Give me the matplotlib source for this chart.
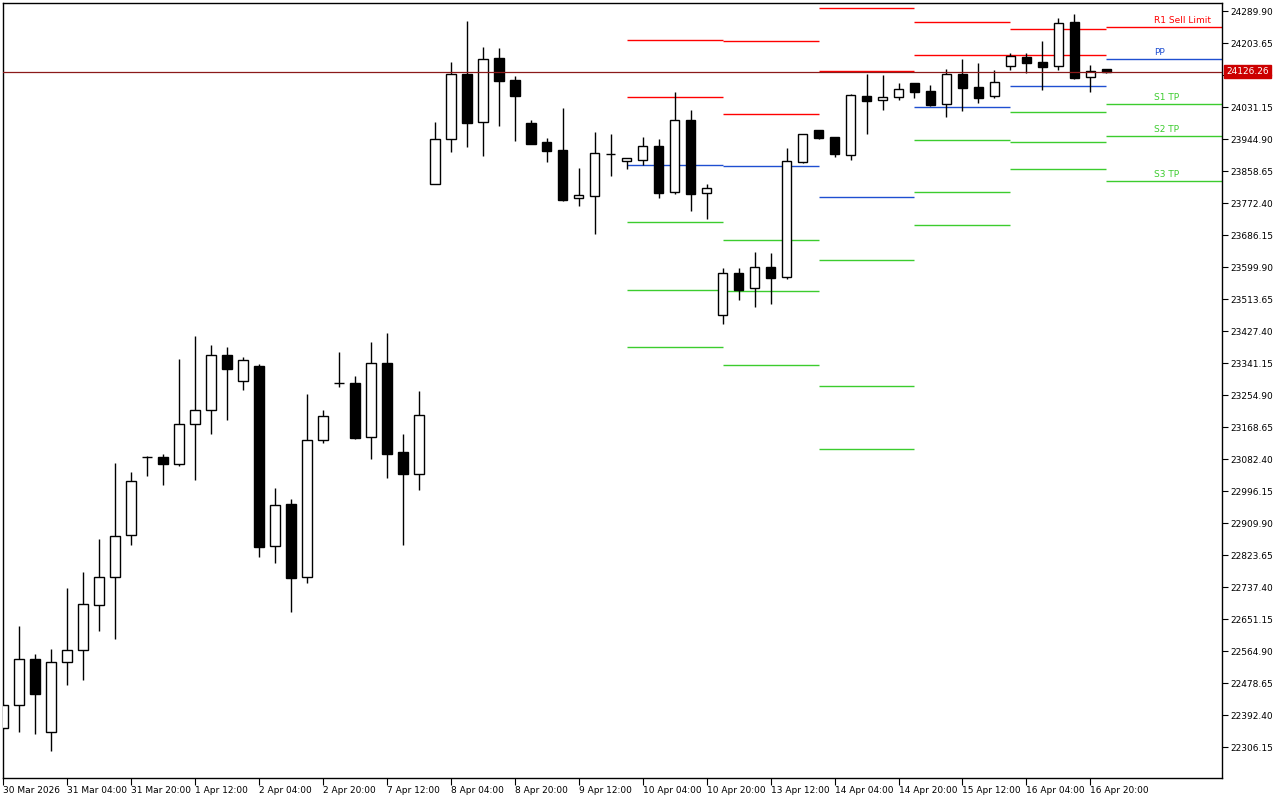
import matplotlib
matplotlib.use("Agg")
import matplotlib.pyplot as plt
from matplotlib.patches import Rectangle
import matplotlib.transforms as mtransforms

# ---------------- data (H4 candles) ----------------
opens = [22356.6, 22418.5, 22542.5, 22345.8, 22534.5, 22566.8, 22688.1, 22763.6, 22876.8, 23089.1,
         23087.8, 23069.7, 23176.0, 23213.7, 23361.9, 23291.8, 23332.3, 22847.1, 22960.3, 22763.6,
         23132.8, 23286.5, 23286.4, 23140.9, 23340.4, 23100.5, 23042.8, 23822.8, 23944.1, 24119.3,
         23989.9, 24162.4, 24103.1, 23987.2, 23936.0, 23914.5, 23785.1, 23792.1, 23905.0, 23884.8,
         23887.5, 23926.0, 23801.2, 23996.1, 23798.6, 23469.7, 23582.9, 23542.5, 23599.1, 23573.8,
         23883.7, 23969.2, 23950.3, 23902.6, 24060.8, 24049.2, 24057.3, 24095.8, 24074.3, 24038.4,
         24119.3, 24085.1, 24060.0, 24140.9, 24165.9, 24152.4, 24140.9, 24260.3, 24111.2, 24133.6]
highs = [22422.1, 22632.3, 22556.8, 22570.3, 22734.7, 22777.8, 22866.8, 23071.6, 23047.4, 23090.5,
         23095.1, 23351.9, 23413.9, 23389.7, 23383.5, 23356.5, 23338.5, 23003.4, 22973.8, 23256.8,
         23213.7, 23370.0, 23305.3, 23397.0, 23421.2, 23149.0, 23264.9, 23990.7, 24152.4, 24263.0,
         24192.9, 24190.2, 24114.7, 23996.1, 23947.6, 24028.5, 23866.7, 23963.8, 23958.4, 23892.9,
         23950.3, 23944.9, 24071.6, 24023.1, 23823.6, 23597.2, 23597.2, 23640.3, 23637.6, 23920.7,
         23959.7, 23969.2, 23950.3, 24067.0, 24120.1, 24117.4, 24095.8, 24095.8, 24090.5, 24133.6,
         24160.5, 24149.8, 24130.9, 24176.7, 24176.7, 24209.0, 24271.0, 24281.8, 24144.4, 24133.6]
lows = [22354.7, 22347.4, 22342.0, 22296.2, 22474.1, 22487.6, 22619.6, 22598.1, 22851.4, 23037.4,
        23013.1, 23064.4, 23026.6, 23150.6, 23188.3, 23269.2, 22819.1, 22802.9, 22670.8, 22747.4,
        23126.3, 23277.3, 23137.1, 23083.2, 23032.0, 22851.4, 22999.7, 23822.8, 23910.7, 23924.2,
        23899.9, 23980.8, 23940.3, 23932.2, 23883.7, 23777.8, 23765.1, 23689.7, 23846.0, 23864.9,
        23874.8, 23786.7, 23797.5, 23751.7, 23730.1, 23447.1, 23511.8, 23492.9, 23501.0, 23568.4,
        23880.2, 23945.7, 23897.2, 23889.1, 23958.4, 24023.9, 24050.8, 24056.2, 24034.7, 24005.0,
        24021.2, 24042.7, 24056.2, 24131.7, 24123.6, 24077.8, 24131.7, 24107.4, 24072.4, 24123.6]
closes = [22419.4, 22542.5, 22449.8, 22534.5, 22566.8, 22690.8, 22763.6, 22874.1, 23022.3, 23087.0,
          23069.7, 23176.0, 23213.7, 23361.9, 23325.8, 23348.4, 22846.0, 22957.6, 22760.9, 23132.8,
          23197.5, 23286.0, 23139.8, 23340.4, 23096.7, 23042.8, 23200.2, 23944.1, 24119.3, 23988.8,
          24159.7, 24102.0, 24061.6, 23932.2, 23913.4, 23780.5, 23793.2, 23906.4, 23904.0, 23892.9,
          23925.2, 23800.2, 23995.3, 23797.5, 23812.0, 23582.9, 23538.7, 23599.1, 23571.1, 23884.8,
          23957.6, 23948.4, 23905.3, 24062.7, 24048.1, 24057.3, 24078.9, 24072.4, 24037.4, 24119.3,
          24083.2, 24056.2, 24097.7, 24167.8, 24150.6, 24139.8, 24256.8, 24110.1, 24127.4, 24126.26]

tick_labels = ["30 Mar 2026", "31 Mar 04:00", "31 Mar 20:00", "1 Apr 12:00", "2 Apr 04:00",
               "2 Apr 20:00", "7 Apr 12:00", "8 Apr 04:00", "8 Apr 20:00", "9 Apr 12:00",
               "10 Apr 04:00", "10 Apr 20:00", "13 Apr 12:00", "14 Apr 04:00", "14 Apr 20:00",
               "15 Apr 12:00", "16 Apr 04:00", "16 Apr 20:00"]
tick_every = 4

# daily pivot levels (segment starts at first bar of each day)
pivot_day_start = [39, 45, 51, 57, 63, 69]
pivot_r2 = [24211.7, 24208.2, 24297.2, 24259.4, 24240.6, None]
pivot_r1 = [24058.1, 24011.5, 24127.4, 24170.5, 24170.5, 24246.0]
pivot_pp = [23874.8, 23871.3, 23787.8, 24030.3, 24087.0, 24159.7]
pivot_s1 = [23721.2, 23671.9, 23618.0, 23941.4, 24016.9, 24038.4]
pivot_s2 = [23537.9, 23534.4, 23278.4, 23801.2, 23936.0, 23952.2]
pivot_s3 = [23384.3, 23335.0, 23108.6, 23712.3, 23863.2, 23830.9]
last_labels = {"R1 Sell Limit": 24246.0, "PP": 24159.7, "S1 TP": 24038.4, "S2 TP": 23952.2, "S3 TP": 23830.9}

current_price = 24126.26
y_ticks = [24289.90, 24203.65, 24117.40, 24031.15, 23944.90, 23858.65, 23772.40, 23686.15,
           23599.90, 23513.65, 23427.40, 23341.15, 23254.90, 23168.65, 23082.40, 22996.15,
           22909.90, 22823.65, 22737.40, 22651.15, 22564.90, 22478.65, 22392.40, 22306.15]

# ---------------- styles ----------------
RED = "#ff0000"
BLUE = "#1f4fd1"
GREEN = "#3ccc2e"
FS = 6.5

plt.rcParams['font.family'] = ['DejaVu Sans']
fig = plt.figure(figsize=(12.8, 8), dpi=100, facecolor="white")
ax = fig.add_axes([3 / 1280, 22 / 800, 1219 / 1280, 775 / 800])
ax.set_facecolor("white")

XMIN, XMAX = 0.04, 76.23
ax.set_xlim(XMIN, XMAX)
ax.set_ylim(22222.6, 24311.5)

# candles
bw = 0.6
for i, (o, h, l, c) in enumerate(zip(opens, highs, lows, closes)):
    ax.vlines(i, l, h, color="black", lw=1.0, zorder=2)
    bull = c >= o
    bottom = min(o, c)
    height = max(abs(c - o), 0.8)
    ax.add_patch(Rectangle((i - bw / 2, bottom), bw, height,
                           facecolor="white" if bull else "black",
                           edgecolor="black", lw=1.0, zorder=3))

# pivot segments
ends = pivot_day_start[1:] + [XMAX]
for k, (s, e) in enumerate(zip(pivot_day_start, ends)):
    for arr, col in ((pivot_r2, RED), (pivot_r1, RED), (pivot_pp, BLUE),
                     (pivot_s1, GREEN), (pivot_s2, GREEN), (pivot_s3, GREEN)):
        v = arr[k]
        if v is None:
            continue
        ax.hlines(v, s, e, color=col, lw=1.0, zorder=1)

label_colors = {"R1 Sell Limit": RED, "PP": BLUE, "S1 TP": GREEN, "S2 TP": GREEN, "S3 TP": GREEN}
for name, v in last_labels.items():
    ax.annotate(name, xy=(72.0, v), xytext=(0, 2), textcoords="offset points",
                ha="left", va="bottom", fontsize=FS, color=label_colors[name], zorder=5)

# current price line
ax.axhline(current_price, color="#8b1a1a", lw=0.9, zorder=4)

# axes styling
for sp in ax.spines.values():
    sp.set_color("black")
    sp.set_linewidth(1.0)

ax.yaxis.tick_right()
ax.set_yticks(y_ticks)
ax.set_yticklabels([f"{v:.2f}" for v in y_ticks])
ax.tick_params(axis="y", direction="out", length=4, width=0.8, pad=2, labelsize=FS, colors="black")

xt = list(range(0, len(opens), tick_every))[:len(tick_labels)]
ax.set_xticks(xt)
ax.set_xticklabels(tick_labels, ha="left")
ax.tick_params(axis="x", direction="out", length=5, width=0.8, pad=1, labelsize=FS, colors="black")
for lab in ax.get_xticklabels():
    lab.set_horizontalalignment("left")

# price label box on the right axis
trans = mtransforms.blended_transform_factory(ax.transAxes, ax.transData)
ax.annotate(f"{current_price:.2f}", xy=(1.0, current_price), xycoords=trans,
            xytext=(3, 0), textcoords="offset points", ha="left", va="center",
            fontsize=FS, color="white", zorder=10, annotation_clip=False,
            bbox=dict(boxstyle="square,pad=0.2", facecolor="#cc0000", edgecolor="#cc0000"))

fig.savefig("out.png", dpi=100, facecolor="white")
